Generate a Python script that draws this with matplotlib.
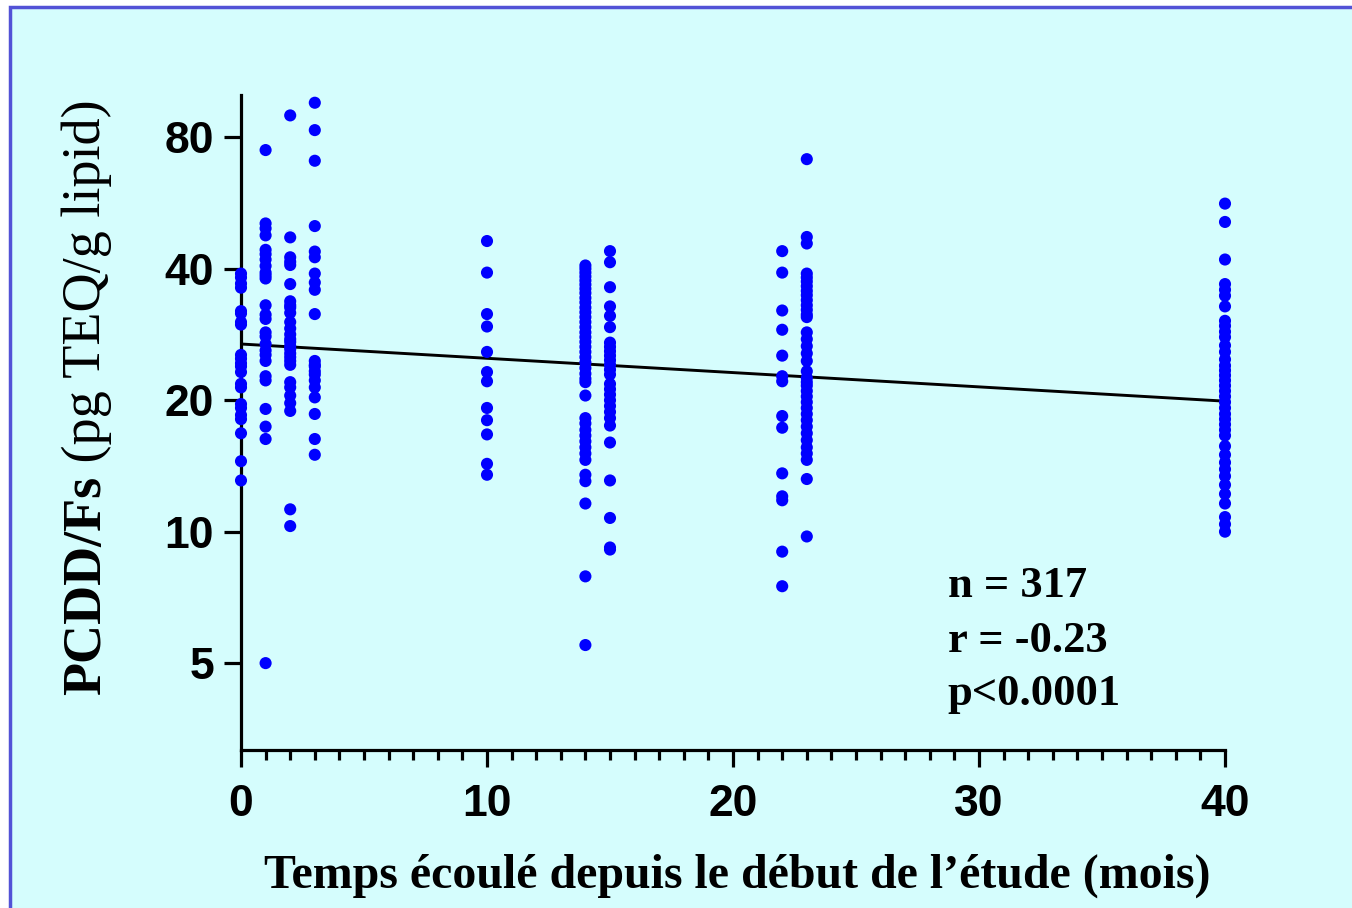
"""
PCDD/Fs in breast-milk lipid vs time since start of study (log2 y axis).
Values read off the original slide.
"""
import matplotlib
matplotlib.use("Agg")
import matplotlib.pyplot as plt
from matplotlib.patches import Rectangle
from matplotlib.ticker import FixedLocator, MultipleLocator, NullLocator

BG = "#D5FDFD"
BORDER = "#5252D6"
DOT = "#0000FF"

# ---------- data (pg TEQ/g lipid) per month ----------
months = [0, 1, 2, 3, 10, 14, 15, 22, 23, 40]

m0 = [39.0, 38.2, 37.0, 36.2, 32.0, 31.6, 30.2, 29.8, 25.4, 24.9, 24.3, 23.9,
      23.2, 21.8, 21.4, 19.6, 19.2, 18.5, 18.1, 16.8, 14.5, 13.1]
m1 = [74.8, 50.8, 49.5, 47.7, 44.2, 43.2, 42.0, 40.6, 39.2, 38.6, 38.0, 33.0,
      31.4, 30.7, 28.6, 28.0, 26.9, 26.0, 25.4, 24.6, 22.7, 22.2, 19.1, 17.4,
      16.3, 5.0]
m2 = [89.8, 47.2, 42.5, 41.5, 40.8, 36.9, 33.7, 33.0, 32.6, 31.7, 30.2, 29.2,
      28.3, 27.6, 27.2, 26.6, 26.2, 25.6, 25.1, 24.6, 24.1, 22.0, 21.4, 20.5,
      19.7, 18.9, 11.25, 10.3]
m3 = [96.0, 83.1, 70.7, 50.1, 43.8, 42.5, 39.0, 37.2, 35.8, 31.5, 24.6, 24.1,
      23.9, 23.3, 22.9, 22.2, 21.4, 20.3, 18.6, 16.3, 15.0]
m10 = [46.3, 39.2, 31.5, 29.5, 25.8, 23.2, 22.1, 19.2, 18.0, 16.7, 14.3, 13.5]
m14 = [40.7, 40.0, 39.2, 38.4, 37.6, 36.8, 36.0, 35.2, 34.3, 33.5, 32.6, 31.8,
       31.0, 30.2, 29.4, 28.6, 27.9, 27.2, 26.5, 25.8, 25.1, 24.4, 23.7, 23.0,
       22.4, 22.0, 20.5, 18.2, 17.7, 17.1, 16.6, 16.1, 15.6, 15.1, 14.6, 13.5,
       13.05, 11.6, 7.9, 5.5]
m15 = [43.9, 41.4, 36.3, 32.8, 31.2, 29.4, 27.1, 26.5, 25.9, 25.3, 24.7, 24.1,
       23.5, 22.9, 21.8, 21.2, 20.6, 20.0, 19.4, 18.8, 18.2, 17.5, 16.0, 13.1,
       10.75, 9.2, 9.1]
m22 = [43.9, 39.2, 32.1, 29.0, 25.3, 22.7, 22.1, 18.4, 17.3, 13.6, 12.05, 11.8,
       9.0, 7.5]
m23 = [71.3, 47.3, 45.7, 39.0, 38.2, 37.4, 36.5, 35.6, 34.8, 33.9, 33.0, 32.2,
       31.4, 31.0, 28.6, 27.6, 26.6, 25.6, 24.6, 23.3, 22.5, 22.0, 21.6, 21.0,
       20.4, 19.8, 19.2, 18.6, 18.0, 17.4, 16.8, 16.2, 15.6, 15.1, 14.6, 13.2,
       9.75]
m40 = [56.4, 51.2, 42.0, 36.9, 35.8, 34.7, 32.8, 30.4, 29.6, 28.7, 27.9, 26.7,
       25.8, 24.8, 24.0, 23.4, 22.8, 22.2, 21.6, 21.0, 20.4, 19.8, 19.2, 18.6,
       18.1, 17.6, 17.1, 16.6, 15.7, 15.0, 14.4, 13.9, 13.4, 12.8, 12.2, 11.6,
       10.8, 10.4, 10.0]
values = [m0, m1, m2, m3, m10, m14, m15, m22, m23, m40]

# regression line end points (as drawn on the slide)
fit_x = [0, 40]
fit_y = [26.9, 19.9]

y_ticks = [5, 10, 20, 40, 80]
stats_lines = ["n = 317", "r = -0.23", "p<0.0001"]

# ---------- figure ----------
W, H = 1352, 908
fig = plt.figure(figsize=(W / 100, H / 100), dpi=100, facecolor="white")
fig.patches.append(Rectangle((10 / W, -0.05), 1.1, 1 - 7 / H + 0.05,
                             transform=fig.transFigure, facecolor=BG,
                             edgecolor=BORDER, lw=2.5, zorder=-10))

ax = fig.add_axes([241 / W, 1 - 750 / H, (1225 - 241) / W, (750 - 95) / H])
ax.set_facecolor("none")

for m, vals in zip(months, values):
    ax.scatter([m] * len(vals), vals, s=76, color=DOT, edgecolors="none",
               zorder=3, clip_on=False)
ax.plot(fit_x, fit_y, color="black", lw=2.1, zorder=2)

ax.set_yscale("log", base=2)
ax.set_ylim(10 ** 0.5, 100)
ax.set_xlim(0, 40)
ax.yaxis.set_major_locator(FixedLocator(y_ticks))
ax.yaxis.set_minor_locator(NullLocator())
ax.set_yticklabels([str(t) for t in y_ticks])
ax.xaxis.set_major_locator(MultipleLocator(10))
ax.xaxis.set_minor_locator(MultipleLocator(1))

for s in ("top", "right"):
    ax.spines[s].set_visible(False)
for s in ("left", "bottom"):
    ax.spines[s].set_linewidth(2.3)

ax.tick_params(which="major", length=12.5, width=2.3, direction="out")
ax.tick_params(axis="y", pad=7)
ax.tick_params(axis="x", pad=12)
ax.tick_params(which="minor", length=7, width=2.3, direction="out")
for lab in ax.get_xticklabels() + ax.get_yticklabels():
    lab.set_fontfamily("Liberation Sans")
    lab.set_fontweight("bold")
    lab.set_fontsize(32)

serif = "Liberation Serif"
for i, txt in enumerate(stats_lines):
    ax.text(0.718, [0.2336, 0.1496, 0.0687][i], txt, transform=ax.transAxes,
            ha="left", va="baseline", fontsize=32, fontweight="bold",
            fontfamily=serif)

fig.text(737 / W, 1 - 888 / H,
         "Temps écoulé depuis le début de l\u2019étude (mois)",
         ha="center", va="baseline", fontsize=34.5, fontweight="bold",
         fontfamily=serif)

# y label: bold part then regular part, stacked upwards
yl1 = fig.text(100 / W, 1 - 695 / H, "PCDD/Fs", rotation=90, ha="left",
               va="baseline", rotation_mode="anchor", fontsize=39,
               fontweight="bold", fontfamily=serif)
fig.canvas.draw()
bb = yl1.get_window_extent()
fig.text(100 / W, bb.y1 / H, " (pg TEQ/g lipid)", rotation=90, ha="left",
         va="baseline", rotation_mode="anchor", fontsize=39,
         fontfamily=serif)

fig.savefig("out.png", dpi=100, facecolor=fig.get_facecolor())
